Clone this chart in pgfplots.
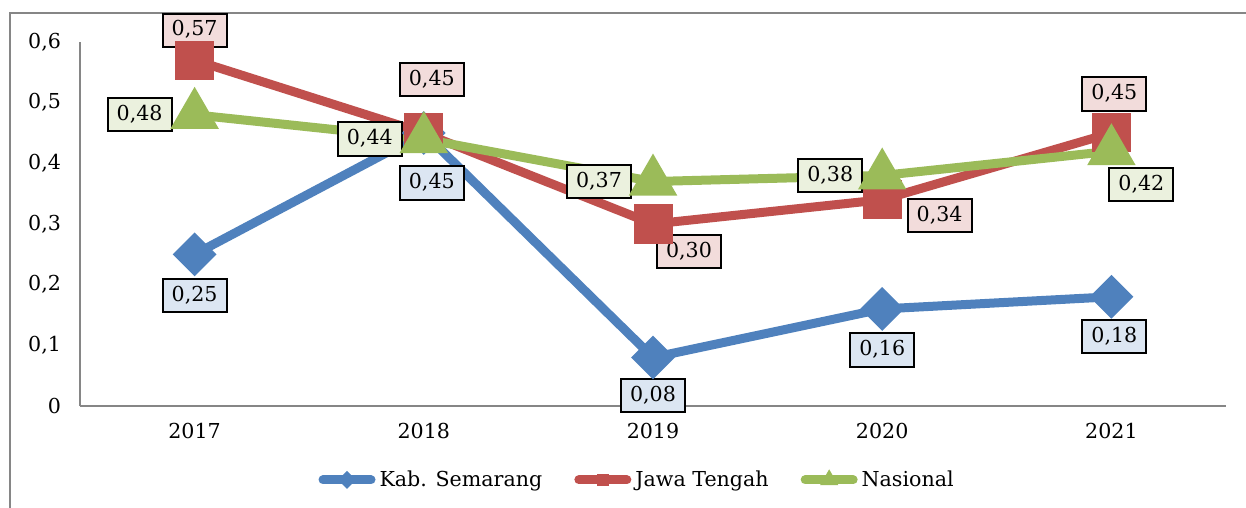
\documentclass[border=0pt]{standalone}
\usepackage{pgfplots}
\pgfplotsset{compat=1.18}
\usepackage{fontspec}
\setmainfont{DejaVu Serif}
\definecolor{cb}{HTML}{4F81BD}
\definecolor{cr}{HTML}{C0504D}
\definecolor{cg}{HTML}{9BBB59}
\definecolor{fb}{HTML}{DCE6F2}
\definecolor{fr}{HTML}{F2DCDB}
\definecolor{fg}{HTML}{EBF1DE}
\definecolor{axgray}{HTML}{868686}
\newcommand{\ff}{\fontsize{10.3}{12}\selectfont}
\tikzset{lbl/.style={draw=black, line width=1pt, inner xsep=4.5pt, inner ysep=3.6pt, text height=7.6pt, text depth=1.8pt, font=\ff}}
\begin{document}
\begin{tikzpicture}
\useasboundingbox (0,0) rectangle (623pt,254pt);
\draw[color=axgray, line width=0.8pt] (5pt,-5pt) -- (5pt,247.5pt) -- (640pt,247.5pt);
\begin{axis}[
  at={(40pt,51pt)}, anchor=south west,
  scale only axis, width=573pt, height=182pt,
  xmin=-0.5, xmax=4.5, ymin=0, ymax=0.6,
  axis x line*=bottom, axis y line*=left,
  axis line style={color=axgray, line width=0.8pt},
  xtick={0,1,2,3,4}, xticklabels={2017,2018,2019,2020,2021},
  ytick={0,0.1,0.2,0.3,0.4,0.5,0.6},
  major tick length=0pt,
  tick label style={font=\ff},
  yticklabel style={xshift=-6pt},
  xticklabel style={yshift=-5pt},
  /pgf/number format/use comma,
  /pgf/number format/fixed,
  /pgf/number format/precision=1,
  /pgf/number format/assume math mode=true,
  clip=false,
  legend style={at={(0.487,-0.203)}, anchor=center, draw=none, fill=none, legend columns=-1, font=\ff,
    /tikz/every even column/.append style={column sep=14pt}},
  legend image code/.code={\draw[#1, line cap=round, mark=none] (0pt,0pt) -- (24pt,0pt);
    \draw[#1] plot coordinates {(12pt,0pt)};},
]
\addplot[cb, line width=4.5pt, mark=square*, mark size=5.5pt, mark options={rotate=45, draw=none, fill=cb}, forget plot]
  coordinates {(0,0.25) (1,0.45) (2,0.08) (3,0.16) (4,0.18)};
\addplot[cr, line width=4.5pt, mark=square*, mark size=7.5pt, mark options={draw=none, fill=cr}, forget plot]
  coordinates {(0,0.57) (1,0.45) (2,0.30) (3,0.34) (4,0.45)};
\addplot[cg, line width=4.5pt, mark=triangle*, mark size=9.5pt, mark options={draw=none, fill=cg}, forget plot]
  coordinates {(0,0.48) (1,0.44) (2,0.37) (3,0.38) (4,0.42)};
\addlegendimage{cb, line width=4.5pt, mark=square*, mark options={scale=0.45, rotate=45, draw=none, fill=cb}}
\addlegendentry{Kab. Semarang}
\addlegendimage{cr, line width=4.5pt, mark=square*, mark options={scale=0.45, draw=none, fill=cr}}
\addlegendentry{Jawa Tengah}
\addlegendimage{cg, line width=4.5pt, mark=triangle*, mark options={scale=0.4, draw=none, fill=cg}}
\addlegendentry{Nasional}
% Kab. Semarang labels
\node[lbl, fill=fb, yshift=-20.5pt] at (axis cs:0,0.25) {0,25};
\node[lbl, fill=fb, xshift=4pt, yshift=-25pt] at (axis cs:1,0.45) {0,45};
\node[lbl, fill=fb, yshift=-19pt] at (axis cs:2,0.08) {0,08};
\node[lbl, fill=fb, yshift=-20.5pt] at (axis cs:3,0.16) {0,16};
\node[lbl, fill=fb, xshift=1.5pt, yshift=-20pt] at (axis cs:4,0.18) {0,18};
% Jawa Tengah labels
\node[lbl, fill=fr, yshift=15pt] at (axis cs:0,0.57) {0,57};
\node[lbl, fill=fr, xshift=4pt, yshift=26.7pt] at (axis cs:1,0.45) {0,45};
\node[lbl, fill=fr, xshift=18pt, yshift=-13.7pt] at (axis cs:2,0.30) {0,30};
\node[lbl, fill=fr, xshift=28.7pt, yshift=-8pt] at (axis cs:3,0.34) {0,34};
\node[lbl, fill=fr, xshift=1.5pt, yshift=19.5pt] at (axis cs:4,0.45) {0,45};
% Nasional labels
\node[lbl, fill=fg, xshift=-27.5pt] at (axis cs:0,0.48) {0,48};
\node[lbl, fill=fg, xshift=-27pt] at (axis cs:1,0.44) {0,44};
\node[lbl, fill=fg, xshift=-27pt] at (axis cs:2,0.37) {0,37};
\node[lbl, fill=fg, xshift=-26pt] at (axis cs:3,0.38) {0,38};
\node[lbl, fill=fg, xshift=15pt, yshift=-16.5pt] at (axis cs:4,0.42) {0,42};
\end{axis}
\end{tikzpicture}
\end{document}
